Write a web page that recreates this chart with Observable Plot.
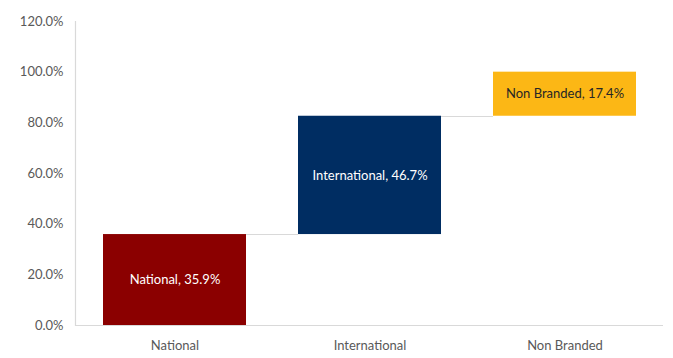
<!DOCTYPE html>
<html>
<head>
<meta charset="utf-8">
<script src="https://cdn.jsdelivr.net/npm/d3@7"></script>
<script src="https://cdn.jsdelivr.net/npm/@observablehq/plot@0.6"></script>
<style>
  html, body { margin: 0; padding: 0; background: #fff; }
</style>
</head>
<body>
<div id="chart"></div>
<script>
const categories = ["National", "International", "Non Branded"];
const values = [35.9, 46.7, 17.4];
const barColors = ["#8B0000", "#002D62", "#FCB715"];
const labelColors = ["#ffffff", "#ffffff", "#262626"];
const yTicks = [0, 20, 40, 60, 80, 100, 120];

let acc = 0;
const table = categories.map((c, i) => {
  const start = acc;
  acc += values[i];
  return { category: c, value: values[i], start, end: acc, fill: barColors[i], textFill: labelColors[i],
           label: `${c}, ${values[i].toFixed(1)}%` };
});

const connectors = (index, scales) => {
  const g = d3.create("svg:g").attr("stroke", "#d9d9d9").attr("stroke-width", 1.2);
  const x = scales.x, y = scales.y;
  const bw = x.bandwidth ? x.bandwidth() : 0;
  for (let i = 0; i < table.length - 1; i++) {
    const yy = Math.round(y(table[i].end)) + 0.5;
    g.append("line")
      .attr("x1", x(table[i].category) + bw)
      .attr("x2", x(table[i + 1].category))
      .attr("y1", yy).attr("y2", yy);
  }
  return g.node();
};

const chart = Plot.plot({
  width: 673,
  height: 358,
  marginLeft: 75,
  marginRight: 10,
  marginTop: 21,
  marginBottom: 33,
  style: { fontFamily: "Lato, 'Open Sans', sans-serif", fontSize: "13px", color: "#595959", background: "#fff" },
  x: { domain: categories, paddingInner: 0.267, paddingOuter: 0.135, label: null, tickSize: 0, tickPadding: 15 },
  y: { domain: [0, 120], ticks: yTicks, tickFormat: d => d.toFixed(1) + "%", label: null, tickSize: 0, tickPadding: 12 },
  marks: [
    Plot.frame({ anchor: "left", stroke: "#d9d9d9", strokeWidth: 1.2 }),
    Plot.ruleY([0], { stroke: "#d9d9d9", strokeWidth: 1.2 }),
    connectors,
    Plot.barY(table, { x: "category", y1: "start", y2: "end", fill: "fill" }),
    Plot.text(table, { x: "category", y: d => (d.start + d.end) / 2, text: "label", fill: "textFill", fontSize: 13 })
  ]
});
document.getElementById("chart").appendChild(chart);
</script>
</body>
</html>
